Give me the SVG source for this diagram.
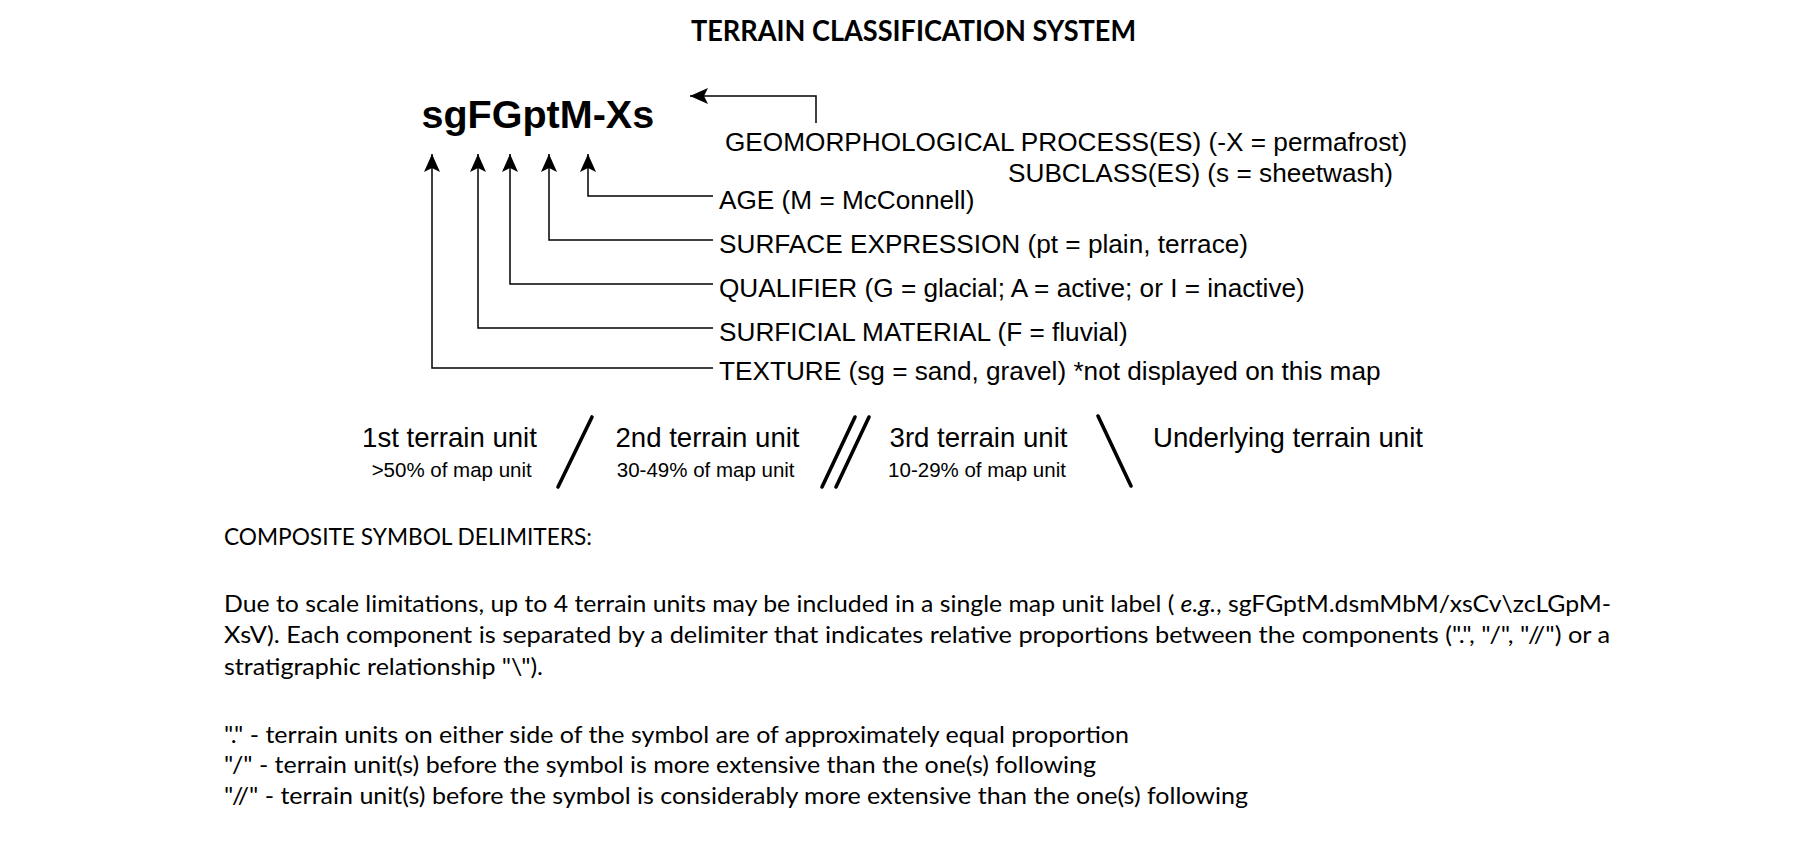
<svg xmlns="http://www.w3.org/2000/svg" width="1798" height="848" viewBox="0 0 1798 848">
<style>
.ar{font-family:"Liberation Sans",Arial,sans-serif;fill:#000}
.lbl{font-size:26.2px}
.hd{font-size:27.6px}
.sub{font-size:20.5px}
.cal{font-family:Lato,"Open Sans",sans-serif;font-size:24px;fill:#000}
.conn{fill:none;stroke:#000;stroke-width:1.5}
.sl{stroke:#000;stroke-width:3.6;stroke-linecap:round}
</style>
<defs>
<marker id="arr" markerUnits="userSpaceOnUse" markerWidth="22" markerHeight="20" viewBox="-20 -10 22 20" refX="0" refY="0" orient="auto">
<path d="M0,0 L-18,-8 L-14,0 L-18,8 Z" fill="#000"/>
</marker>
</defs>
<rect width="1798" height="848" fill="#fff"/>

<g id="title">
<text x="691" y="41" font-family="Lato,'Open Sans',sans-serif" font-weight="700" font-size="28" textLength="445" lengthAdjust="spacingAndGlyphs">TERRAIN CLASSIFICATION SYSTEM</text>
</g>

<g id="symbol">
<text class="ar" x="421.5" y="128" font-weight="700" font-size="39.5">sgFGptM-Xs</text>
</g>

<g id="connectors">
<path class="conn" d="M816,123 V96 H690" marker-end="url(#arr)"/>
<path class="conn" d="M713,196 H588 V154" marker-end="url(#arr)"/>
<path class="conn" d="M713,240 H549 V154" marker-end="url(#arr)"/>
<path class="conn" d="M713,284 H510 V154" marker-end="url(#arr)"/>
<path class="conn" d="M713,328 H478 V154" marker-end="url(#arr)"/>
<path class="conn" d="M713,368 H432 V154" marker-end="url(#arr)"/>
</g>

<g id="geomorph"><text class="ar lbl" x="725" y="151">GEOMORPHOLOGICAL PROCESS(ES) (-X = permafrost)</text></g>
<g id="subclass"><text class="ar lbl" x="1008" y="182">SUBCLASS(ES) (s = sheetwash)</text></g>
<g id="age"><text class="ar lbl" x="719" y="209">AGE (M = McConnell)</text></g>
<g id="surface"><text class="ar lbl" x="719" y="253">SURFACE EXPRESSION (pt = plain, terrace)</text></g>
<g id="qualifier"><text class="ar lbl" x="719" y="297">QUALIFIER (G = glacial; A = active; or I = inactive)</text></g>
<g id="material"><text class="ar lbl" x="719" y="341">SURFICIAL MATERIAL (F = fluvial)</text></g>
<g id="texture"><text class="ar lbl" x="719" y="380">TEXTURE (sg = sand, gravel) *not displayed on this map</text></g>

<g id="unit1">
<text class="ar hd" x="449.5" y="447" text-anchor="middle">1st terrain unit</text>
<text class="ar sub" x="451.7" y="477" text-anchor="middle">&gt;50% of map unit</text>
</g>
<g id="delim1"><line class="sl" x1="592" y1="417" x2="558" y2="487"/></g>
<g id="unit2">
<text class="ar hd" x="707.5" y="447" text-anchor="middle">2nd terrain unit</text>
<text class="ar sub" x="705.7" y="477" text-anchor="middle">30-49% of map unit</text>
</g>
<g id="delim2">
<line class="sl" x1="855" y1="417" x2="822" y2="487"/>
<line class="sl" x1="869" y1="417" x2="836" y2="487"/>
</g>
<g id="unit3">
<text class="ar hd" x="978.5" y="447" text-anchor="middle">3rd terrain unit</text>
<text class="ar sub" x="977" y="477" text-anchor="middle">10-29% of map unit</text>
</g>
<g id="delim3"><line class="sl" x1="1098" y1="416" x2="1131" y2="486"/></g>
<g id="unit4">
<text class="ar hd" x="1153" y="447">Underlying terrain unit</text>
</g>

<g id="notes">
<text class="cal" x="224" y="545" textLength="368" lengthAdjust="spacingAndGlyphs">COMPOSITE SYMBOL DELIMITERS:</text>
<text class="cal" x="224" y="612" textLength="1387" lengthAdjust="spacingAndGlyphs">Due to scale limitations, up to 4 terrain units may be included in a single map unit label ( <tspan font-style="italic">e.g.</tspan>, sgFGptM.dsmMbM/xsCv\zcLGpM-</text>
<text class="cal" x="224" y="643" textLength="1386" lengthAdjust="spacingAndGlyphs">XsV). Each component is separated by a delimiter that indicates relative proportions between the components (".", "/", "//") or a</text>
<text class="cal" x="224" y="675" textLength="319" lengthAdjust="spacingAndGlyphs">stratigraphic relationship "\").</text>
<text class="cal" x="224" y="743" textLength="905" lengthAdjust="spacingAndGlyphs">"." - terrain units on either side of the symbol are of approximately equal proportion</text>
<text class="cal" x="224" y="773" textLength="872" lengthAdjust="spacingAndGlyphs">"/" - terrain unit(s) before the symbol is more extensive than the one(s) following</text>
<text class="cal" x="224" y="804" textLength="1024" lengthAdjust="spacingAndGlyphs">"//" - terrain unit(s) before the symbol is considerably more extensive than the one(s) following</text>
</g>
</svg>
